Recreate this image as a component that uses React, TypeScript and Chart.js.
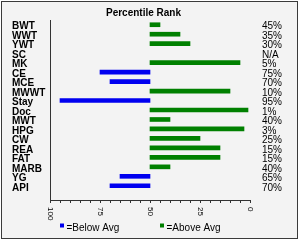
import React, { useEffect, useRef } from 'react';
import { Chart, registerables } from 'chart.js';

Chart.register(...registerables);

const TITLE = 'Percentile Rank';
const CATEGORIES = ['BWT', 'WWT', 'YWT', 'SC', 'MK', 'CE', 'MCE', 'MWWT', 'Stay', 'Doc', 'MWT', 'HPG', 'CW', 'REA', 'FAT', 'MARB', 'YG', 'API'];
const PERCENTILES: (number | null)[] = [45, 35, 30, null, 5, 75, 70, 10, 95, 1, 40, 3, 25, 15, 15, 40, 65, 70];
const RANK_LABELS = ['45%', '35%', '30%', 'N/A', '5%', '75%', '70%', '10%', '95%', '1%', '40%', '3%', '25%', '15%', '15%', '40%', '65%', '70%'];
const AVERAGE = 50;
const X_TICK_LABELS = [100, 75, 50, 25, 0];
const LEGEND_LABELS = ['=Below Avg', '=Above Avg'];
const BELOW_COLOR = '#0000F0';
const ABOVE_COLOR = '#008000';
const AXIS_COLOR = '#333333';
const FONT = 'Liberation Sans';

const overlayPlugin = {
  id: 'overlayText',
  afterDraw(chart: any) {
    const { ctx, chartArea, scales } = chart;
    ctx.save();
    ctx.fillStyle = '#000';
    // title
    ctx.font = `bold 10px "${FONT}"`;
    ctx.textAlign = 'center';
    ctx.textBaseline = 'alphabetic';
    ctx.fillText(TITLE, (chartArea.left + chartArea.right) / 2 - 6.5, 15.5);
    // rotated x tick labels
    ctx.font = `8px "${FONT}"`;
    X_TICK_LABELS.forEach((v) => {
      const x = scales.x.getPixelForValue(v);
      ctx.save();
      ctx.translate(x + 0.5, chartArea.bottom + 7);
      ctx.rotate(Math.PI / 2);
      ctx.textAlign = 'left';
      ctx.textBaseline = 'middle';
      ctx.fillText(String(v), 0, 0);
      ctx.restore();
    });
    // legend
    ctx.font = `10px "${FONT}"`;
    ctx.textAlign = 'left';
    ctx.textBaseline = 'alphabetic';
    const colors = [BELOW_COLOR, ABOVE_COLOR];
    LEGEND_LABELS.forEach((t, i) => {
      const bx = chartArea.left + 10 + i * 100;
      ctx.fillStyle = colors[i];
      ctx.fillRect(bx, chartArea.bottom + 23.5, 4, 4);
      ctx.fillStyle = '#000';
      ctx.fillText(t, bx + 6.5, chartArea.bottom + 30.5);
    });
    ctx.restore();
  },
};

export default function App() {
  const ref = useRef<HTMLCanvasElement>(null);
  useEffect(() => {
    document.body.style.margin = '0';
    const canvas = ref.current!;
    const data = PERCENTILES.flatMap((v, i) => (v == null ? [] : [{ x: [AVERAGE, v], y: i }]));
    const chart = new Chart(canvas, {
      type: 'bar',
      data: {
        datasets: [
          {
            data: data as any,
            backgroundColor: (c: any) => (c.raw && c.raw.x[1] > AVERAGE ? BELOW_COLOR : ABOVE_COLOR),
            borderWidth: 0,
            barThickness: 4,
            clip: false as any,
          },
        ],
      },
      plugins: [overlayPlugin],
      options: {
        indexAxis: 'y',
        animation: false,
        responsive: false,
        maintainAspectRatio: false,
        font: { family: FONT } as any,
        layout: { padding: { top: 20, left: 12, right: 0, bottom: 0 } },
        plugins: {
          legend: { display: false },
          title: { display: false },
          tooltip: { enabled: false },
        },
        scales: {
          x: {
            type: 'linear',
            position: 'bottom',
            min: 0,
            max: 100,
            reverse: true,
            afterFit: (s: any) => {
              s.height = 40;
            },
            grid: { display: true, drawOnChartArea: false, drawTicks: true, tickLength: 3, color: AXIS_COLOR },
            border: { display: true, color: AXIS_COLOR, width: 1 },
            ticks: {
              stepSize: 5,
              autoSkip: false,
              maxRotation: 0,
              callback: () => '',
              font: { family: FONT, size: 8 },
            },
          },
          y: {
            type: 'linear',
            position: 'left',
            min: 0,
            max: 18,
            reverse: true,
            afterFit: (s: any) => {
              s.width = 38;
            },
            grid: { display: false, drawTicks: false },
            border: { display: true, color: AXIS_COLOR, width: 1 },
            ticks: {
              stepSize: 1,
              autoSkip: false,
              crossAlign: 'far',
              labelOffset: 2,
              padding: 0,
              color: '#000',
              font: { family: FONT, size: 10, weight: 'bold' },
              callback: (v: any) => CATEGORIES[v] ?? '',
            },
          },
          y2: {
            type: 'linear',
            position: 'right',
            min: 0,
            max: 18,
            reverse: true,
            afterFit: (s: any) => {
              s.width = 50;
            },
            grid: { display: false, drawTicks: false },
            border: { display: false },
            ticks: {
              stepSize: 1,
              autoSkip: false,
              crossAlign: 'near',
              labelOffset: 2,
              padding: 12,
              color: '#000',
              font: { family: FONT, size: 10 },
              callback: (v: any) => RANK_LABELS[v] ?? '',
            },
          },
        },
      } as any,
    });
    return () => chart.destroy();
  }, []);

  return (
    <div style={{ position: 'fixed', left: 0, top: 0, width: 300, height: 240, background: '#fff' }}>
      <div
        style={{
          position: 'absolute',
          left: 1,
          top: 1,
          width: 297,
          height: 238,
          boxSizing: 'border-box',
          border: '1px solid #3a3a3a',
          background: '#f3f3f3',
        }}
      />
      <canvas ref={ref} width={300} height={240} style={{ position: 'absolute', left: 0, top: 0, width: 300, height: 240 }} />
    </div>
  );
}
